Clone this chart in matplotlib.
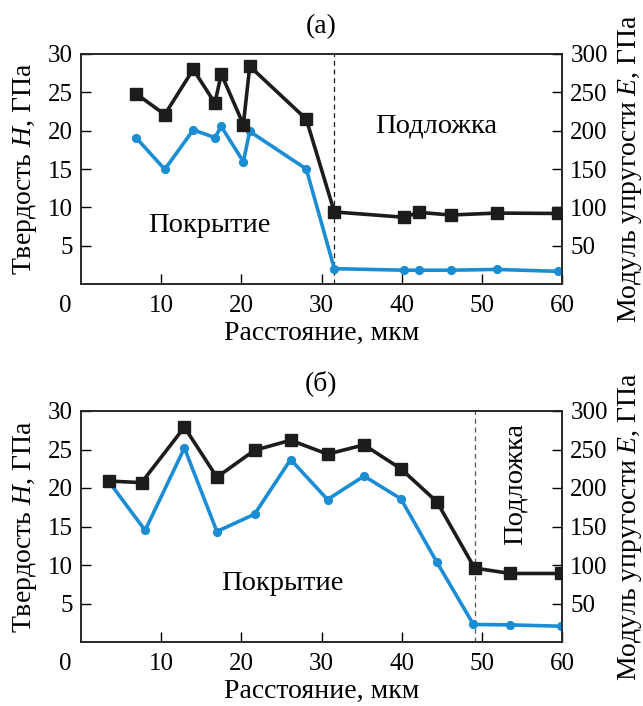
import matplotlib
matplotlib.use("Agg")
import matplotlib.pyplot as plt
import matplotlib.transforms as mtransforms

plt.rcParams['font.family'] = ['Liberation Serif', 'DejaVu Serif']
plt.rcParams['mathtext.fontset'] = 'custom'
plt.rcParams['mathtext.rm'] = 'Liberation Serif'
plt.rcParams['mathtext.it'] = 'Liberation Serif:italic'

# ---- data: panel (а)
a_x = [6.9, 10.45, 14.0, 16.7, 17.5, 20.25, 21.05, 28.1, 31.6, 40.35, 42.1, 46.1, 51.85, 59.5]
a_E = [248, 221, 280, 236, 274, 208, 284, 215, 94, 87, 93.5, 90, 92.5, 92]
a_H = [19.05, 14.95, 20.1, 19.1, 20.55, 15.95, 19.9, 15.0, 2.0, 1.8, 1.8, 1.8, 1.9, 1.65]
a_interface = 31.6

# ---- data: panel (б)
b_xE = [3.5, 7.55, 12.9, 16.95, 21.65, 26.15, 30.75, 35.3, 39.9, 44.4, 49.1, 53.55, 59.9]
b_E = [209, 207, 279, 214, 249, 262, 244, 256, 225, 182, 96, 89, 89]
b_xH = [3.5, 8.0, 12.9, 16.95, 21.65, 26.15, 30.75, 35.3, 39.9, 44.4, 48.95, 53.55, 59.9]
b_H = [20.8, 14.5, 25.2, 14.35, 16.6, 23.7, 18.5, 21.55, 18.6, 10.35, 2.28, 2.22, 2.05]
b_interface = 49.1

x_ticks = [0, 10, 20, 30, 40, 50, 60]
h_ticks = [5, 10, 15, 20, 25, 30]
e_ticks = [50, 100, 150, 200, 250, 300]

BLUE = '#1b8dd4'
BLACK = '#1c1c1c'
FS_TICK = 18
FS_LABEL = 20
FS_TEXT = 20.5

fig = plt.figure(figsize=(6.43, 7.06), dpi=100)
W, Hh = 643, 706


def make_panel(rect, title, xH, H, xE, E, xi, texts, dash_color):
    ax = fig.add_axes(rect)
    ax2 = ax.twinx()
    ax.plot(xH, H, color=BLUE, lw=2.6, marker='o', ms=5.6, zorder=3)
    ax2.plot(xE, E, color=BLACK, lw=2.6, marker='s', ms=8.5, zorder=4)
    ax.axvline(xi, color=dash_color, lw=0.9, ls=(0, (4, 3)), zorder=2)
    ax.set_xlim(0, 60)
    ax.set_ylim(0, 30)
    ax2.set_ylim(0, 300)
    ax.set_xticks(x_ticks)
    ax.set_xticklabels([str(v) for v in x_ticks])
    ax.set_yticks(h_ticks)
    ax2.set_yticks(e_ticks)
    ax.tick_params(axis='both', direction='in', length=7, width=1, labelsize=FS_TICK,
                   top=False, right=False)
    ax.tick_params(axis='x', pad=8)
    ax.tick_params(axis='y', pad=6)
    ax2.tick_params(axis='y', direction='in', length=7, width=1, labelsize=FS_TICK, pad=6)
    # shift the "0" tick label to the left, as in the original
    lbl0 = ax.get_xticklabels()[0]
    lbl0.set_transform(lbl0.get_transform() + mtransforms.ScaledTranslation(-16 / 100, 0, fig.dpi_scale_trans))
    ax.xaxis.get_major_ticks()[0].tick1line.set_visible(False)
    for sp in list(ax.spines.values()) + list(ax2.spines.values()):
        sp.set_linewidth(1.1)
        sp.set_color('#222222')
    ax.set_xlabel('Расстояние, мкм', fontsize=FS_LABEL, labelpad=3)
    ax.set_ylabel('Твердость $H$, ГПа', fontsize=FS_LABEL, labelpad=6)
    ax2.set_ylabel('Модуль упругости $E$, ГПа', fontsize=FS_LABEL, labelpad=6)
    ax.set_title(title, fontsize=FS_LABEL, pad=15)
    for (tx, ty, s, rot) in texts:
        ax.text(tx, ty, s, fontsize=FS_TEXT, rotation=rot, ha='center', va='center', zorder=5)
    return ax, ax2


make_panel([81 / W, 1 - 284 / Hh, 481 / W, 230 / Hh], '(а)', a_x, a_H, a_x, a_E, a_interface,
           [(15.96, 7.6, 'Покрытие', 0), (44.3, 20.6, 'Подложка', 0)], '#1c1c1c')
make_panel([81 / W, 1 - 642 / Hh, 481 / W, 231 / Hh], '(б)', b_xH, b_H, b_xE, b_E, b_interface,
           [(25.1, 7.6, 'Покрытие', 0), (54.2, 20.5, 'Подложка', 90)], '#555555')

fig.savefig('out.png', dpi=100)
